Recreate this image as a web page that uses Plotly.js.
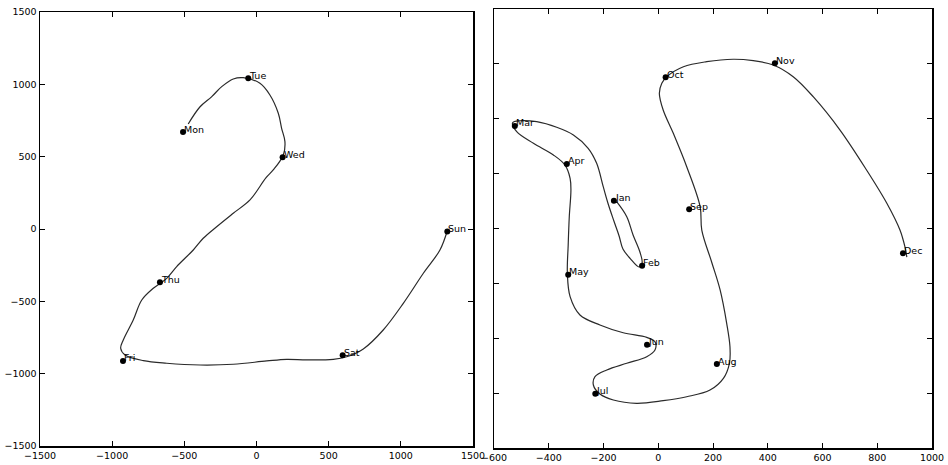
<!DOCTYPE html>
<html>
<head>
<meta charset="utf-8">
<script src="https://cdn.plot.ly/plotly-3.0.1.min.js"></script>
<style>html,body{margin:0;padding:0;background:#fff;}#chart{width:948px;height:465px;}</style>
</head>
<body>
<div id="chart"></div>
<script>
// ---- Left panel: days ----
const days = ["Mon","Tue","Wed","Thu","Fri","Sat","Sun"];
const dayX = [-509, -57, 181, -669, -925, 597, 1322];
const dayY = [670, 1042, 496, -368, -912, -873, -18];
// traced curve through the days
const dayPathX = [-473,-391,-310,-241,-161,-92,24,93,151,174,197,186,116,65,-45,-161,-276,-369,-438,-553,-622,-715,-795,-854,-923,-941,-911,-784,-622,-391,-161,71,209,348,532,625,740,878,1017,1156,1271,1322];
const dayPathY = [726,845,915,984,1037,1046,1007,926,800,696,604,512,408,353,201,109,16,-64,-145,-260,-341,-410,-491,-629,-767,-824,-871,-910,-928,-940,-935,-912,-901,-905,-901,-883,-829,-698,-514,-306,-145,-12];
const leftTicks = [-1500,-1000,-500,0,500,1000,1500];

// ---- Right panel: months ----
const months = ["Jan","Feb","Mar","Apr","May","Jun","Jul","Aug","Sep","Oct","Nov","Dec"];
const monthX = [-162,-59,-524,-334,-329,-41,-230,214,113,27,426,894];
const monthY = [253,-339,934,588,-421,-1059,-1505,-1235,175,1378,1505,-226];
const monthPathX = [-152,-115,-92,-67,-59,-70,-103,-129,-143,-162,-184,-201,-225,-256,-310,-371,-444,-505,-532,-517,-456,-383,-341,-322,-319,-325,-329,-332,-322,-286,-213,-128,-42,-12,-12,-42,-115,-188,-231,-237,-213,-164,-79,18,104,189,238,260,262,250,226,195,159,153,104,55,18,4,13,31,92,177,274,347,420,493,566,664,761,835,883,901,908];
const monthPathY = [244,107,-59,-214,-314,-351,-272,-187,-68,68,232,381,594,731,852,922,973,982,964,882,776,670,579,457,351,107,-150,-408,-621,-788,-879,-950,-992,-1032,-1107,-1168,-1228,-1289,-1350,-1426,-1508,-1563,-1593,-1569,-1533,-1472,-1365,-1228,-1077,-864,-560,-305,-14,199,563,867,1080,1232,1323,1383,1474,1520,1542,1529,1490,1383,1201,897,533,230,-14,-166,-260];
const rightXTicks = [-600,-400,-200,0,200,400,600,800,1000];
const rightYTicks = [-1500,-1000,-500,0,500,1000,1500];

const FONT = {family: "DejaVu Sans", size: 9.5, color: "#000"};
const lineCol = "#2a2a2a";

const traces = [
  {x: dayPathX, y: dayPathY, mode: "lines", line: {color: lineCol, width: 1.2, shape: "spline", smoothing: 1}, xaxis: "x", yaxis: "y", hoverinfo: "skip"},
  {x: dayX, y: dayY, mode: "markers", marker: {color: "#000", size: 6}, xaxis: "x", yaxis: "y"},
  {x: monthPathX, y: monthPathY, mode: "lines", line: {color: lineCol, width: 1.2, shape: "spline", smoothing: 1}, xaxis: "x2", yaxis: "y2", hoverinfo: "skip"},
  {x: monthX, y: monthY, mode: "markers", marker: {color: "#000", size: 6}, xaxis: "x2", yaxis: "y2"}
];

const annotations = [];
days.forEach((d, i) => annotations.push({x: dayX[i], y: dayY[i], xref: "x", yref: "y", text: d, showarrow: false, xanchor: "left", yanchor: "middle", xshift: -1, yshift: 3, font: FONT}));
months.forEach((m, i) => annotations.push({x: monthX[i], y: monthY[i], xref: "x2", yref: "y2", text: m, showarrow: false, xanchor: "left", yanchor: "middle", xshift: -1, yshift: 3, font: FONT}));

const axBase = {
  showgrid: false, zeroline: false, showline: true, linecolor: "#000", linewidth: 1.5,
  mirror: "allticks", ticks: "inside", ticklen: 5, tickwidth: 1, tickcolor: "#000",
  tickfont: FONT, fixedrange: true
};

const layout = {
  width: 948, height: 465,
  margin: {l: 0, r: 0, t: 0, b: 0},
  paper_bgcolor: "#fff", plot_bgcolor: "#fff",
  showlegend: false,
  xaxis: Object.assign({}, axBase, {domain: [40/948, 473/948], range: [-1500, 1500], tickvals: leftTicks, anchor: "y"}),
  yaxis: Object.assign({}, axBase, {domain: [1-446/465, 1-12/465], range: [-1500, 1500], tickvals: leftTicks, anchor: "x"}),
  xaxis2: Object.assign({}, axBase, {domain: [494/948, 932/948], range: [-600, 1000], tickvals: rightXTicks, anchor: "y2"}),
  yaxis2: Object.assign({}, axBase, {domain: [1-448/465, 1-9/465], range: [-2000, 2000], tickvals: rightYTicks, showticklabels: false, anchor: "x2"}),
  annotations: annotations
};

Plotly.newPlot("chart", traces, layout, {staticPlot: true, displayModeBar: false});
</script>
</body>
</html>
